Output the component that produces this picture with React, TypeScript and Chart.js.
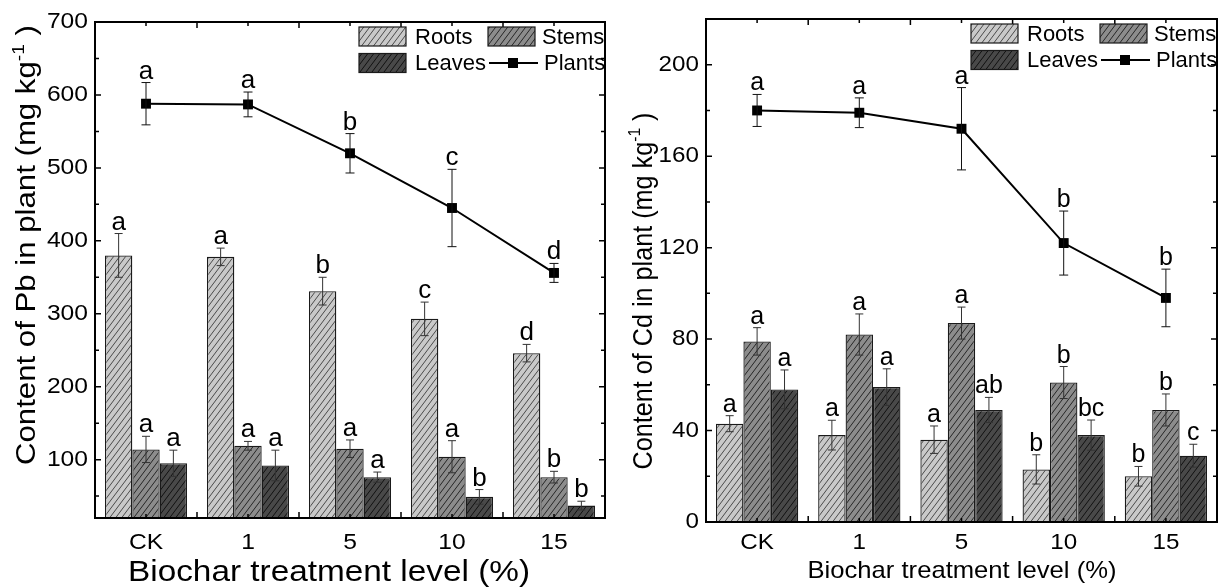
import React, { useEffect, useRef } from 'react';
import { Chart, registerables } from 'chart.js';

Chart.register(...registerables);

// ---------------- data ----------------
const categories = ['CK', '1', '5', '10', '15'];

// Pb (mg kg-1)
const pbRoots = [380, 378, 331, 293, 246];
const pbRootsErr = [30, 12, 19, 23, 12];
const pbRootsSig = ['a', 'a', 'b', 'c', 'd'];
const pbStems = [114, 119, 115, 104, 76];
const pbStemsErr = [18, 6, 12, 22, 8];
const pbStemsSig = ['a', 'a', 'a', 'a', 'b'];
const pbLeaves = [95, 92, 76, 49, 37];
const pbLeavesErr = [18, 21, 7, 10, 6];
const pbLeavesSig = ['a', 'a', 'a', 'b', 'b'];
const pbPlants = [588, 587, 520, 445, 356];
const pbPlantsErr = [29, 17, 27, 53, 13];
const pbPlantsSig = ['a', 'a', 'b', 'c', 'd'];
const pbMajorTicks = [100, 200, 300, 400, 500, 600, 700];
const pbMinorTicks = [50, 150, 250, 350, 450, 550, 650];

// Cd (mg kg-1)
const cdRoots = [43, 38, 36, 23, 20];
const cdRootsErr = [3.5, 6.5, 6, 6.4, 4.3];
const cdRootsSig = ['a', 'a', 'a', 'b', 'b'];
const cdStems = [79, 82, 87, 61, 49];
const cdStemsErr = [6, 9, 7, 7, 7];
const cdStemsSig = ['a', 'a', 'a', 'b', 'b'];
const cdLeaves = [58, 59, 49, 38, 29];
const cdLeavesErr = [8.5, 8, 5.5, 6.6, 5];
const cdLeavesSig = ['a', 'a', 'ab', 'bc', 'c'];
const cdPlants = [180, 179, 172, 122, 98];
const cdPlantsErr = [7, 6.5, 18, 14, 12.6];
const cdPlantsSig = ['a', 'a', 'a', 'b', 'b'];
const cdMajorTicks = [0, 40, 80, 120, 160, 200];
const cdMinorTicks = [20, 60, 100, 140, 180];

const seriesNames = ['Roots', 'Stems', 'Leaves', 'Plants'];
const xAxisTitle = 'Biochar treatment level (%)';

// ---------------- styling ----------------
const FONT = '"Liberation Sans", Arial, Helvetica, sans-serif';
const BAR_STYLE = [
  { bg: '#c9c9c9', line: '#4a4a4a' },
  { bg: '#8c8c8c', line: '#262626' },
  { bg: '#494949', line: '#101010' },
];

function makeHatch(ctx: CanvasRenderingContext2D, bg: string, line: string) {
  const c = document.createElement('canvas');
  c.width = 12;
  c.height = 16;
  const g = c.getContext('2d')!;
  g.fillStyle = bg;
  g.fillRect(0, 0, 12, 16);
  g.strokeStyle = line;
  g.lineWidth = 1;
  g.beginPath();
  for (let x0 = -12; x0 <= 12; x0 += 6) {
    g.moveTo(x0, 16);
    g.lineTo(x0 + 12, 0);
  }
  g.stroke();
  return ctx.createPattern(c, 'repeat')!;
}

function stretchText(
  ctx: CanvasRenderingContext2D, text: string, x: number, y: number,
  size: number, sx: number, align: CanvasTextAlign, baseline: CanvasTextBaseline,
) {
  ctx.save();
  ctx.font = `${size}px ${FONT}`;
  ctx.textAlign = align;
  ctx.textBaseline = baseline;
  ctx.fillStyle = '#000';
  ctx.translate(x, y);
  ctx.scale(sx, 1);
  ctx.fillText(text, 0, 0);
  ctx.restore();
}

function fitText(ctx: CanvasRenderingContext2D, text: string, cx: number, base: number, size: number, width: number) {
  ctx.save();
  ctx.font = `${size}px ${FONT}`;
  const w = ctx.measureText(text).width;
  ctx.restore();
  stretchText(ctx, text, cx, base, size, width / w, 'center', 'alphabetic');
}

function drawYTitle(
  ctx: CanvasRenderingContext2D, metal: string, bx: number, cy: number,
  size: number, len: number, across: number,
) {
  const main = `Content of ${metal} in plant (mg kg`;
  const sup = '-1';
  const tail = ' )';
  const supSize = size * 0.62;
  ctx.save();
  ctx.font = `${size}px ${FONT}`;
  const w1 = ctx.measureText(main).width;
  const w3 = ctx.measureText(tail).width;
  ctx.font = `${supSize}px ${FONT}`;
  const w2 = ctx.measureText(sup).width;
  const total = w1 + w2 + w3;
  ctx.translate(bx, cy);
  ctx.rotate(-Math.PI / 2);
  ctx.scale(len / total, across);
  ctx.fillStyle = '#000';
  ctx.textAlign = 'left';
  ctx.textBaseline = 'alphabetic';
  let x = -total / 2;
  ctx.font = `${size}px ${FONT}`;
  ctx.fillText(main, x, 0);
  x += w1;
  ctx.font = `${supSize}px ${FONT}`;
  ctx.fillText(sup, x, -size * 0.42);
  x += w2;
  ctx.font = `${size}px ${FONT}`;
  ctx.fillText(tail, x, 0);
  ctx.restore();
}

type Spec = {
  metal: string;
  vals: number[][];
  errs: number[][];
  sigs: string[][];
  yMin: number;
  yMax: number;
  major: number[];
  minor: number[];
  pad: { top: number; right: number };
  yWidth: number;
  xHeight: number;
  yTitle: { bx: number; cy: number; size: number; len: number; across: number };
  xTitle: { cx: number; base: number; size: number; width: number };
  tickSize: number;
  tickSx: number;
  letterSize: number;
};

const layoutPb = {
  pad: { top: 22, right: 4 },
  yWidth: 95,
  xHeight: 70,
  yTitle: { bx: 35, cy: 245, size: 27, len: 440, across: 1.0 },
  xTitle: { cx: 329, base: 581, size: 29, width: 402 },
};
const layoutCd = {
  pad: { top: 19, right: 3 },
  yWidth: 94,
  xHeight: 66,
  yTitle: { bx: 40, cy: 291, size: 25, len: 357, across: 1.1 },
  xTitle: { cx: 350, base: 578, size: 24, width: 309 },
};

function buildChart(canvas: HTMLCanvasElement, spec: Spec) {
  const ctx = canvas.getContext('2d')!;
  const patterns = BAR_STYLE.map((s) => makeHatch(ctx, s.bg, s.line));

  const decor = {
    id: 'decor',
    afterDatasetsDraw(chart: any) {
      const c: CanvasRenderingContext2D = chart.ctx;
      const ys = chart.scales.y;
      for (let i = 0; i < 4; i++) {
        const meta = chart.getDatasetMeta(i);
        const isLine = i === 3;
        meta.data.forEach((el: any, j: number) => {
          const v = spec.vals[i][j];
          const e = spec.errs[i][j];
          const x = el.x;
          const yt = ys.getPixelForValue(v + e);
          const yb = ys.getPixelForValue(v - e);
          const cap = isLine ? 4.5 : 4;
          c.save();
          c.strokeStyle = isLine ? '#111' : '#333';
          c.lineWidth = 1;
          c.beginPath();
          c.moveTo(x, yt);
          c.lineTo(x, yb);
          c.moveTo(x - cap, yt);
          c.lineTo(x + cap, yt);
          c.moveTo(x - cap, yb);
          c.lineTo(x + cap, yb);
          c.stroke();
          c.font = `${spec.letterSize}px ${FONT}`;
          c.fillStyle = '#000';
          c.textAlign = 'center';
          c.textBaseline = 'alphabetic';
          c.fillText(spec.sigs[i][j], x, yt - 4);
          c.restore();
        });
      }
    },
    afterDraw(chart: any) {
      const c: CanvasRenderingContext2D = chart.ctx;
      const ca = chart.chartArea;
      const xs = chart.scales.x;
      const ys = chart.scales.y;
      c.save();
      // frame
      c.strokeStyle = '#000';
      c.lineWidth = 2;
      c.strokeRect(ca.left, ca.top, ca.right - ca.left, ca.bottom - ca.top);
      c.lineWidth = 1.5;
      c.beginPath();
      const tick = (x1: number, y1: number, x2: number, y2: number) => {
        c.moveTo(x1, y1);
        c.lineTo(x2, y2);
      };
      spec.major.forEach((v) => {
        const y = ys.getPixelForValue(v);
        if (y > ca.top + 1 && y < ca.bottom - 1) {
          tick(ca.left, y, ca.left + 6, y);
          tick(ca.right, y, ca.right - 6, y);
        }
      });
      spec.minor.forEach((v) => {
        const y = ys.getPixelForValue(v);
        tick(ca.left, y, ca.left + 4, y);
        tick(ca.right, y, ca.right - 4, y);
      });
      const n = categories.length;
      for (let i = 0; i < n; i++) {
        const x = xs.getPixelForTick(i);
        tick(x, ca.bottom, x, ca.bottom - 4);
        tick(x, ca.top, x, ca.top + 4);
        if (i < n - 1) {
          const xb = (x + xs.getPixelForTick(i + 1)) / 2;
          tick(xb, ca.bottom, xb, ca.bottom - 6);
          tick(xb, ca.top, xb, ca.top + 6);
        }
      }
      c.stroke();
      c.restore();

      // tick labels
      spec.major.forEach((v) => {
        stretchText(c, String(v), ca.left - 7, ys.getPixelForValue(v), spec.tickSize, spec.tickSx, 'right', 'middle');
      });
      categories.forEach((lab, i) => {
        stretchText(c, lab, xs.getPixelForTick(i), 549, spec.tickSize, spec.tickSx, 'center', 'alphabetic');
      });

      // titles
      const yt = spec.yTitle;
      drawYTitle(c, spec.metal, yt.bx, yt.cy, yt.size, yt.len, yt.across);
      const xt = spec.xTitle;
      fitText(c, xAxisTitle, xt.cx, xt.base, xt.size, xt.width);

      // legend
      const L = ca.right - 246;
      const r1 = ca.top + 14.5;
      const r2 = ca.top + 41;
      const bw = 47;
      const bh = 19;
      const box = (x: number, yc: number, k: number) => {
        c.save();
        c.fillStyle = patterns[k];
        c.fillRect(x, yc - bh / 2, bw, bh);
        c.strokeStyle = '#1a1a1a';
        c.lineWidth = 1.2;
        c.strokeRect(x, yc - bh / 2, bw, bh);
        c.restore();
      };
      const label = (t: string, x: number, yc: number) => {
        c.save();
        c.font = `22px ${FONT}`;
        c.fillStyle = '#000';
        c.textAlign = 'left';
        c.textBaseline = 'middle';
        c.fillText(t, x, yc + 1);
        c.restore();
      };
      box(L, r1, 0);
      label(seriesNames[0], L + 56, r1);
      box(L + 129, r1, 1);
      label(seriesNames[1], L + 183, r1);
      box(L, r2, 2);
      label(seriesNames[2], L + 56, r2);
      c.save();
      c.strokeStyle = '#000';
      c.lineWidth = 2;
      c.beginPath();
      c.moveTo(L + 130, r2);
      c.lineTo(L + 179, r2);
      c.stroke();
      c.fillStyle = '#000';
      c.fillRect(L + 154 - 5, r2 - 5, 10, 10);
      c.restore();
      label(seriesNames[3], L + 185, r2);
    },
  };

  return new Chart(ctx, {
    type: 'bar',
    data: {
      labels: categories,
      datasets: [
        ...[0, 1, 2].map((k) => ({
          type: 'bar' as const,
          label: seriesNames[k],
          data: spec.vals[k],
          backgroundColor: patterns[k],
          borderColor: '#1a1a1a',
          borderWidth: 1.3,
          barPercentage: 1.0,
          categoryPercentage: 0.805,
          order: 2,
        })),
        {
          type: 'line' as const,
          label: seriesNames[3],
          data: spec.vals[3],
          borderColor: '#000',
          borderWidth: 2,
          pointStyle: 'rect',
          pointRadius: 7,
          pointBackgroundColor: '#000',
          pointBorderColor: '#000',
          pointBorderWidth: 0,
          tension: 0,
          order: 1,
        } as any,
      ],
    },
    options: {
      responsive: false,
      animation: false,
      layout: { padding: { top: spec.pad.top, right: spec.pad.right, left: 0, bottom: 0 } },
      plugins: { legend: { display: false }, tooltip: { enabled: false }, title: { display: false } },
      scales: {
        x: {
          offset: true,
          grid: { display: false, drawTicks: false },
          border: { display: false },
          ticks: { display: false },
          afterFit: (s: any) => {
            s.height = spec.xHeight;
          },
        },
        y: {
          min: spec.yMin,
          max: spec.yMax,
          grid: { display: false, drawTicks: false },
          border: { display: false },
          ticks: { display: false },
          afterFit: (s: any) => {
            s.width = spec.yWidth;
          },
        },
      },
    },
    plugins: [decor],
  });
}

const specPb: Spec = {
  metal: 'Pb',
  vals: [pbRoots, pbStems, pbLeaves, pbPlants],
  errs: [pbRootsErr, pbStemsErr, pbLeavesErr, pbPlantsErr],
  sigs: [pbRootsSig, pbStemsSig, pbLeavesSig, pbPlantsSig],
  yMin: 20,
  yMax: 700,
  major: pbMajorTicks,
  minor: pbMinorTicks,
  ...layoutPb,
  tickSize: 22,
  tickSx: 1.12,
  letterSize: 26,
};

const specCd: Spec = {
  metal: 'Cd',
  vals: [cdRoots, cdStems, cdLeaves, cdPlants],
  errs: [cdRootsErr, cdStemsErr, cdLeavesErr, cdPlantsErr],
  sigs: [cdRootsSig, cdStemsSig, cdLeavesSig, cdPlantsSig],
  yMin: 0,
  yMax: 220,
  major: cdMajorTicks,
  minor: cdMinorTicks,
  ...layoutCd,
  tickSize: 22,
  tickSx: 1.1,
  letterSize: 25,
};

export default function App() {
  const leftRef = useRef<HTMLCanvasElement>(null);
  const rightRef = useRef<HTMLCanvasElement>(null);

  useEffect(() => {
    const a = buildChart(leftRef.current!, specPb);
    const b = buildChart(rightRef.current!, specCd);
    return () => {
      a.destroy();
      b.destroy();
    };
  }, []);

  return (
    <div style={{ position: 'absolute', left: 0, top: 0, width: 1224, height: 588, background: '#fff', overflow: 'hidden' }}>
      <canvas ref={leftRef} width={612} height={588} style={{ position: 'absolute', left: 0, top: 0, width: 612, height: 588 }} />
      <canvas ref={rightRef} width={612} height={588} style={{ position: 'absolute', left: 612, top: 0, width: 612, height: 588 }} />
    </div>
  );
}
